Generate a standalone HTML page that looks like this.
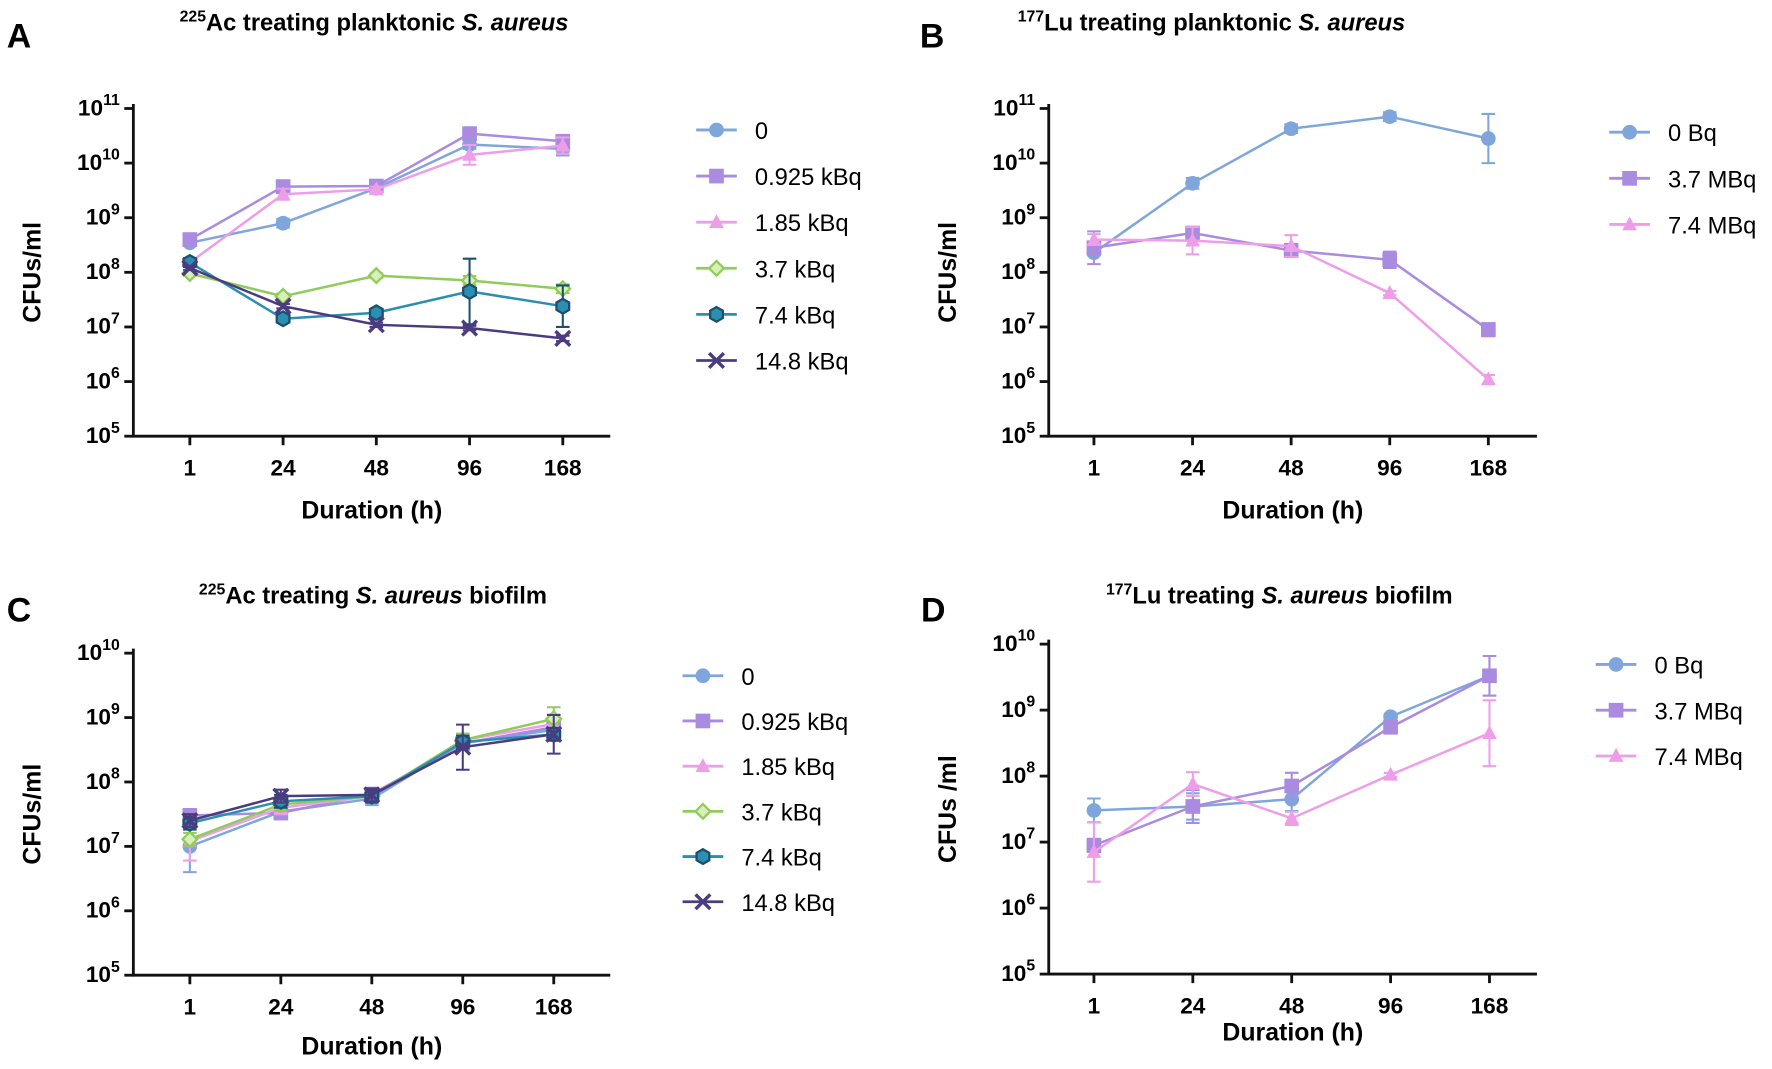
<!DOCTYPE html>
<html><head><meta charset="utf-8"><style>
html,body{margin:0;padding:0;background:#fff}
svg{display:block;font-family:"Liberation Sans",Arial,sans-serif}
</style></head><body>
<svg id="fig" width="1772" height="1069" viewBox="0 0 1568 946" preserveAspectRatio="none" xmlns="http://www.w3.org/2000/svg"></svg>
<script>
const xCategories = ["1","24","48","96","168"];
// values are log10(CFU/ml)
const aNames = ["0","0.925 kBq","1.85 kBq","3.7 kBq","7.4 kBq","14.8 kBq"];
const aS0 = [8.54,8.9,9.54,10.34,10.26];
const aS1 = [8.6,9.57,9.58,10.54,10.4];
const aS2 = [8.18,9.43,9.52,10.15,10.32];
const aS3 = [7.98,7.56,7.94,7.85,7.7];
const aS4 = [8.18,7.15,7.26,7.65,7.38];
const aS5 = [8.08,7.38,7.04,6.98,6.79];
const aErr = [[0.05,0.08,0.05,0.08,0.12],[0.04,0.05,0.05,0.05,0.1],[0.05,0.1,0.05,0.18,0.15],[0.04,0.05,0.04,0.08,0.08],[0.08,0.05,0.05,0.6,0.38],[0.04,0.04,0.04,0.04,0.05]];
const bNames = ["0 Bq","3.7 MBq","7.4 MBq"];
const bS0 = [8.36,9.63,10.63,10.85,10.45];
const bS1 = [8.45,8.72,8.4,8.23,6.95];
const bS2 = [8.6,8.58,8.48,7.62,6.04];
const bErr = [[0.05,0.1,0.08,0.08,0.45],[0.3,0.1,0.12,0.15,0.12],[0.1,0.25,0.2,0.04,0.08]];
const cNames = aNames;
const cS0 = [7.0,7.54,7.74,8.6,8.81];
const cS1 = [7.48,7.52,7.81,8.6,8.85];
const cS2 = [7.08,7.6,7.78,8.65,8.9];
const cS3 = [7.11,7.65,7.78,8.65,8.98];
const cS4 = [7.36,7.7,7.78,8.62,8.74];
const cS5 = [7.4,7.78,7.8,8.54,8.74];
const cErr = [[0.4,0.1,0.1,0.1,0.1],[0.1,0.1,0.1,0.1,0.1],[0.3,0.1,0.1,0.1,0.15],[0.1,0.1,0.1,0.1,0.18],[0.1,0.1,0.1,0.1,0.1],[0.1,0.1,0.1,0.35,0.3]];
const dNames = bNames;
const dS0 = [7.48,7.54,7.65,8.9,9.52];
const dS1 = [6.95,7.54,7.85,8.74,9.52];
const dS2 = [6.85,7.88,7.36,8.02,8.65];
const dErr = [[0.18,0.2,0.18,0.04,0.3],[0.1,0.25,0.2,0.04,0.3],[0.45,0.18,0.1,0.03,0.5]];

const NS="http://www.w3.org/2000/svg";
const svg=document.getElementById('fig');
function mk(tag,attrs,parent){const e=document.createElementNS(NS,tag);for(const k in attrs)e.setAttribute(k,attrs[k]);(parent||svg).appendChild(e);return e;}

const stylesA=[
 {c:"#7fa6dc",f:"#7fa6dc",m:"circle"},{c:"#a98be0",f:"#a98be0",m:"square"},{c:"#ee9ee8",f:"#ee9ee8",m:"tri"},
 {c:"#8fcc5a",f:"#d8f0b8",m:"diamond"},{c:"#2a8fb0",f:"#2a8fb0",m:"hex",s:"#1d4e6e"},{c:"#4b3b80",f:"none",m:"x"}];
const stylesB=[{c:"#7fa6dc",f:"#7fa6dc",m:"circle"},{c:"#a98be0",f:"#a98be0",m:"square"},{c:"#ee9ee8",f:"#ee9ee8",m:"tri"}];

function marker(g,st,x,y,r){
  const s=st.s||st.c;
  if(st.m==="circle")mk('circle',{cx:x,cy:y,r:r,fill:st.f},g);
  else if(st.m==="square")mk('rect',{x:x-r,y:y-r,width:2*r,height:2*r,fill:st.f},g);
  else if(st.m==="tri")mk('polygon',{points:`${x},${y-r*1.1} ${x-r},${y+r*0.8} ${x+r},${y+r*0.8}`,fill:st.f},g);
  else if(st.m==="diamond")mk('polygon',{points:`${x},${y-r} ${x+r},${y} ${x},${y+r} ${x-r},${y}`,fill:st.f,stroke:st.c,'stroke-width':2},g);
  else if(st.m==="hex"){let p=[];for(let i=0;i<6;i++){const a=Math.PI/6+i*Math.PI/3;p.push((x+r*Math.cos(a))+","+(y+r*Math.sin(a)));}mk('polygon',{points:p.join(' '),fill:st.f,stroke:s,'stroke-width':2},g);}
  else if(st.m==="x"){mk('path',{d:`M${x-r},${y-r}L${x+r},${y+r}M${x-r},${y+r}L${x+r},${y-r}`,stroke:st.c,'stroke-width':3},g);}
}

function panel(cfg){
  const g=mk('g',{});
  
  
  const yS=v=>cfg.yBot-(v-cfg.yMin)*(cfg.yBot-cfg.yTop)/(cfg.yMax-cfg.yMin);
  const xS=i=>cfg.xt[0]+i*(cfg.xt[1]-cfg.xt[0])/(xCategories.length-1);
  // letter
  const L=mk('text',{x:cfg.lx,y:cfg.ly,'font-size':30,'font-weight':'bold'},g);L.textContent=cfg.letter;
  
  const T=mk('text',{x:cfg.tx,y:cfg.ty,'font-size':21,'font-weight':'bold','text-anchor':'middle'},g);
  
  T.innerHTML=`<tspan font-size="14" dy="-8">${cfg.iso}</tspan><tspan dy="8">${cfg.el} treating </tspan>`+cfg.rest;
  // axes
  const ax=mk('path',{d:`M${cfg.ax},${cfg.yTop-4}L${cfg.ax},${cfg.yBot}L${cfg.xEnd},${cfg.yBot}`,stroke:'#111','stroke-width':2.5,fill:'none'},g);
  
  for(let v=cfg.yMin;v<=cfg.yMax;v++){
    const y=yS(v);
    mk('line',{x1:cfg.ax-8,x2:cfg.ax,y1:y,y2:y,stroke:'#111','stroke-width':2.5},g);
    const t=mk('text',{x:cfg.ax-12,y:y+6,'font-size':20,'font-weight':'bold','text-anchor':'end'},g);
    
    t.innerHTML=`10<tspan font-size="14" dy="-9">${v}</tspan>`;
  }
  xCategories.forEach((c,i)=>{
    const x=xS(i);
    mk('line',{x1:x,x2:x,y1:cfg.yBot,y2:cfg.yBot+8,stroke:'#111','stroke-width':2.5},g);
    const t=mk('text',{x:x,y:cfg.yBot+35,'font-size':20,'font-weight':'bold','text-anchor':'middle'},g);
    
    t.textContent=c;
  });
  const xl=mk('text',{x:(cfg.ax+cfg.xEnd)/2,y:cfg.xly,'font-size':22,'font-weight':'bold','text-anchor':'middle'},g);
  xl.textContent="Duration (h)";
  const yc=(cfg.yTop+cfg.yBot)/2;
  const yl=mk('text',{x:cfg.ylx,y:yc,'font-size':22,'font-weight':'bold','text-anchor':'middle',transform:`rotate(-90 ${cfg.ylx} ${yc})`},g);
  yl.textContent=cfg.ylab;
  // series
  cfg.series.forEach((s,k)=>{
    const st=cfg.styles[k];
    const sg=mk('g',{},g);
    
    
    mk('polyline',{points:s.map((v,i)=>xS(i)+","+yS(v)).join(' '),fill:'none',stroke:st.c,'stroke-width':2.2},sg);
    s.forEach((v,i)=>{
      const e=cfg.err[k][i];const x=xS(i);
      mk('path',{d:`M${x},${yS(v-e)}L${x},${yS(v+e)}M${x-6},${yS(v-e)}L${x+6},${yS(v-e)}M${x-6},${yS(v+e)}L${x+6},${yS(v+e)}`,stroke:st.s||st.c,'stroke-width':1.8,fill:'none'},sg);
      marker(sg,st,x,yS(v),6.5);
    });
  });
  // legend
  cfg.names.forEach((n,k)=>{
    const st=cfg.styles[k];const y=cfg.legY+k*cfg.legDy;
    const lg=mk('g',{},g);
    
    mk('line',{x1:cfg.legX-18,x2:cfg.legX+18,y1:y,y2:y,stroke:st.c,'stroke-width':2.5},lg);
    marker(lg,st,cfg.legX,y,6.5);
    const t=mk('text',{x:cfg.legX+34,y:y+8,'font-size':21},lg);t.textContent=n;
  });
}

panel({id:'panel-a',letter:'A',lx:6,ly:42,tx:331,ty:27,iso:'225',el:'Ac',rest:'planktonic <tspan font-style="italic">S. aureus</tspan>',
 ax:118,xEnd:540,yTop:96,yBot:386,yMin:5,yMax:11,xt:[168,498],xly:459,ylx:36,ylab:'CFUs/ml',
 series:[aS0,aS1,aS2,aS3,aS4,aS5],err:aErr,names:aNames,styles:stylesA,legX:634,legY:115,legDy:40.8});
panel({id:'panel-b',letter:'B',lx:814,ly:42,tx:1072,ty:27,iso:'177',el:'Lu',rest:'planktonic <tspan font-style="italic">S. aureus</tspan>',
 ax:928,xEnd:1360,yTop:96,yBot:386,yMin:5,yMax:11,xt:[968,1317],xly:459,ylx:846,ylab:'CFUs/ml',
 series:[bS0,bS1,bS2],err:bErr,names:bNames,styles:stylesB,legX:1442,legY:117,legDy:40.8});
panel({id:'panel-c',letter:'C',lx:6,ly:550,tx:330,ty:534,iso:'225',el:'Ac',rest:'<tspan font-style="italic">S. aureus</tspan> biofilm',
 ax:118,xEnd:540,yTop:578,yBot:863,yMin:5,yMax:10,xt:[168,490],xly:933,ylx:36,ylab:'CFUs/ml',
 series:[cS0,cS1,cS2,cS3,cS4,cS5],err:cErr,names:cNames,styles:stylesA,legX:622,legY:598,legDy:40});
panel({id:'panel-d',letter:'D',lx:815,ly:550,tx:1132,ty:534,iso:'177',el:'Lu',rest:'<tspan font-style="italic">S. aureus</tspan> biofilm',
 ax:928,xEnd:1360,yTop:570,yBot:862,yMin:5,yMax:10,xt:[968,1318],xly:921,ylx:846,ylab:'CFUs /ml',
 series:[dS0,dS1,dS2],err:dErr,names:dNames,styles:stylesB,legX:1430,legY:588,legDy:40.5});
</script>
</body></html>
